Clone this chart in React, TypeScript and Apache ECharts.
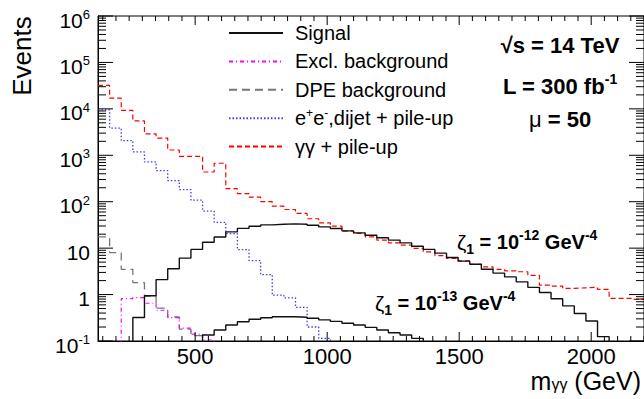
import React, { useEffect, useRef } from "react";
import * as echarts from "echarts";

// ---- binning (GeV) ----
const X_MIN = 132;
const X_MAX = 2200;
const BIN_WIDTH = 44;

// ---- axis ticks / labels ----
const X_TICK_LABELS = [500, 1000, 1500, 2000];
const Y_MIN = 0.1;
const Y_MAX = 1e6;

// ---- histogram contents (events per bin), 47 bins from 132 to 2200 GeV ----
// 0.01 marks bins that lie below the visible range
const SIGNAL_HI = [
  0.01, 0.01, 0.01, 0.32, 0.94, 2.1, 3.6, 6.1, 9.4, 13.4,
  17.4, 22.4, 26.7, 29.7, 31.7, 32.8, 33.3, 32.8, 31.2, 28.7,
  26.5, 23.5, 21.3, 19.0, 16.7, 14.9, 13.0, 11.0, 9.4, 7.8,
  6.3, 5.25, 4.5, 3.5, 2.9, 2.4, 1.88, 1.43, 1.11, 0.81,
  0.57, 0.39, 0.27, 0.124, 0.01, 0.01, 0.01,
];
const SIGNAL_LO = [
  0.01, 0.01, 0.01, 0.01, 0.01, 0.01, 0.01, 0.01, 0.01, 0.135,
  0.172, 0.221, 0.26, 0.293, 0.317, 0.333, 0.333, 0.325, 0.31, 0.285,
  0.265, 0.242, 0.221, 0.197, 0.172, 0.151, 0.135, 0.114, 0.01, 0.01,
  0.01, 0.01, 0.01, 0.01, 0.01, 0.01, 0.01, 0.01, 0.01, 0.01,
  0.01, 0.01, 0.01, 0.01, 0.01, 0.01, 0.01,
];
const EXCL_BKG = [
  0.01, 0.01, 0.82, 0.86, 0.65, 0.46, 0.32, 0.19, 0.14, 0.105,
  0.01, 0.01, 0.01, 0.01, 0.01, 0.01, 0.01, 0.01, 0.01, 0.01,
  0.01, 0.01, 0.01, 0.01, 0.01, 0.01, 0.01, 0.01, 0.01, 0.01,
  0.01, 0.01, 0.01, 0.01, 0.01, 0.01, 0.01, 0.01, 0.01, 0.01,
  0.01, 0.01, 0.01, 0.01, 0.01, 0.01, 0.01,
];
const DPE_BKG = [
  17.5, 8.0, 3.5, 1.8, 0.93, 0.51, 0.33, 0.18, 0.13, 0.01,
  0.01, 0.01, 0.01, 0.01, 0.01, 0.01, 0.01, 0.01, 0.01, 0.01,
  0.01, 0.01, 0.01, 0.01, 0.01, 0.01, 0.01, 0.01, 0.01, 0.01,
  0.01, 0.01, 0.01, 0.01, 0.01, 0.01, 0.01, 0.01, 0.01, 0.01,
  0.01, 0.01, 0.01, 0.01, 0.01, 0.01, 0.01,
];
const EE_DIJET = [
  9500, 3860, 2070, 1180, 718, 469, 286, 183, 108, 63,
  36, 20.5, 9.3, 5.4, 2.7, 0.97, 0.85, 0.53, 0.2, 0.114,
  0.01, 0.01, 0.01, 0.01, 0.01, 0.01, 0.01, 0.01, 0.01, 0.01,
  0.01, 0.01, 0.01, 0.01, 0.01, 0.01, 0.01, 0.01, 0.01, 0.01,
  0.01, 0.01, 0.01, 0.01, 0.01, 0.01, 0.01,
];
const GAMMA_GAMMA = [
  32000, 17000, 9300, 5500, 2900, 2350, 1300, 950, 950, 437,
  673, 192, 150, 125, 100, 80, 68, 56, 43, 35,
  29.7, 23.2, 20.7, 17.5, 14.9, 13.0, 11.6, 9.9, 8.3, 6.9,
  6.0, 5.3, 4.5, 3.96, 3.48, 3.25, 3.1, 2.6, 1.6, 1.52,
  1.36, 1.4, 1.43, 1.29, 0.83, 0.83, 0.79,
];

const NAMES = [
  "Signal",
  "Excl. background",
  "DPE background",
  "e+e-,dijet + pile-up",
  "γγ + pile-up",
];

const FONT = "'Liberation Sans', Arial, Helvetica, sans-serif";

function hist(values: number[]) {
  const pts: number[][] = values.map((v, i) => [X_MIN + i * BIN_WIDTH, v]);
  pts.push([X_MIN + values.length * BIN_WIDTH, values[values.length - 1]]);
  return pts;
}

function yTickData() {
  const out: number[][] = [];
  for (let k = -1; k <= 6; k++) {
    const d = Math.pow(10, k);
    out.push([X_MIN, d, 1]);
    if (k < 6) for (let m = 2; m <= 9; m++) out.push([X_MIN, m * d, 0]);
  }
  return out;
}
function xTickData() {
  const out: number[][] = [];
  for (let v = 150; v <= X_MAX; v += 50) {
    out.push([v, 1, X_TICK_LABELS.indexOf(v) >= 0 ? 1 : 0]);
  }
  return out;
}

function lineSeries(name: string, values: number[], color: string, width: number, type: any, z = 3) {
  return {
    name,
    type: "line",
    step: "end",
    data: hist(values),
    symbol: "none",
    showSymbol: false,
    clip: true,
    z,
    lineStyle: { color, width, type },
    itemStyle: { color },
  };
}

export default function App() {
  const ref = useRef<HTMLDivElement>(null);
  useEffect(() => {
    if (!ref.current) return;
    const chart = echarts.init(ref.current, undefined, { renderer: "svg" });
    const option: any = {
      animation: false,
      backgroundColor: "#fff",
      grid: {
        left: 98,
        right: -1,
        top: 16,
        bottom: 58,
        show: true,
        borderColor: "#000",
        borderWidth: 1,
      },
      xAxis: {
        type: "value",
        min: X_MIN,
        max: X_MAX,
        axisLine: { show: true, lineStyle: { color: "#000", width: 1 } },
        axisTick: { show: false },
        splitLine: { show: false },
        axisLabel: {
          customValues: X_TICK_LABELS,
          formatter: (v: number) => String(v),
          fontSize: 22,
          fontFamily: FONT,
          color: "#000",
          margin: 5,
          lineHeight: 20,
        },
      },
      yAxis: {
        type: "log",
        logBase: 10,
        min: Y_MIN,
        max: Y_MAX,
        axisLine: { show: true, lineStyle: { color: "#000", width: 1 } },
        axisTick: { show: false },
        splitLine: { show: false },
        axisLabel: {
          margin: 8,
          padding: [8, 0, 0, 0],
          color: "#000",
          fontFamily: FONT,
          fontSize: 21,
          formatter: (v: number) => {
            const e = Math.round(Math.log10(v));
            if (e === 0) return "{b|1}";
            if (e === 1) return "{b|10}";
            return "{b|10}{s|" + e + "}";
          },
          rich: {
            b: { fontSize: 21, lineHeight: 24, fontFamily: FONT, color: "#000" },
            s: { fontSize: 13, lineHeight: 12, verticalAlign: "top", fontFamily: FONT, color: "#000" },
          },
        },
      },
      legend: {
        orient: "vertical",
        left: 228,
        top: 22,
        padding: 0,
        itemWidth: 54,
        itemHeight: 14,
        itemGap: 6.4,
        selectedMode: false,
        data: NAMES,
        itemStyle: { opacity: 0 },
        formatter: (n: string) =>
          n === NAMES[3] ? "{t|e}{sup|+}{t|e}{sup|-}{t|,dijet + pile-up}" : "{t|" + n + "}",
        textStyle: {
          fontFamily: FONT,
          fontSize: 20,
          color: "#000",
          lineHeight: 22,
          padding: [0, 0, 0, 7],
          rich: {
            t: { fontFamily: FONT, fontSize: 20, lineHeight: 22, color: "#000" },
            sup: { fontFamily: FONT, fontSize: 12, lineHeight: 10, verticalAlign: "top", color: "#000" },
          },
        },
      },
      series: [
        lineSeries(NAMES[4], GAMMA_GAMMA, "#ff0000", 1.2, [5, 3], 3),
        lineSeries(NAMES[3], EE_DIJET, "#3a3aff", 1.3, [1.5, 2], 3),
        lineSeries(NAMES[2], DPE_BKG, "#777777", 1.3, [8, 5], 3),
        lineSeries(NAMES[1], EXCL_BKG, "#ff00ff", 1.2, [4, 3, 1, 3], 3),
        lineSeries(NAMES[0], SIGNAL_HI, "#111111", 1.4, "solid", 4),
        lineSeries(NAMES[0], SIGNAL_LO, "#111111", 1.4, "solid", 4),
        {
          name: "yticks",
          type: "custom",
          silent: true,
          z: 5,
          encode: { x: 0, y: 1 },
          data: yTickData(),
          renderItem: (params: any, api: any) => {
            const cs = params.coordSys;
            const y = api.coord([api.value(0), api.value(1)])[1];
            const len = api.value(2) ? 15 : 8;
            const st = { stroke: "#000", lineWidth: 1 };
            return {
              type: "group",
              children: [
                { type: "line", shape: { x1: cs.x, y1: y, x2: cs.x + len, y2: y }, style: st },
                { type: "line", shape: { x1: cs.x + cs.width, y1: y, x2: cs.x + cs.width - len, y2: y }, style: st },
              ],
            };
          },
        },
        {
          name: "xticks",
          type: "custom",
          silent: true,
          z: 5,
          encode: { x: 0, y: 1 },
          data: xTickData(),
          renderItem: (params: any, api: any) => {
            const cs = params.coordSys;
            const x = api.coord([api.value(0), api.value(1)])[0];
            const len = api.value(2) ? 9 : 5;
            const st = { stroke: "#000", lineWidth: 1 };
            return {
              type: "group",
              children: [
                { type: "line", shape: { x1: x, y1: cs.y + cs.height, x2: x, y2: cs.y + cs.height - len }, style: st },
                { type: "line", shape: { x1: x, y1: cs.y, x2: x, y2: cs.y + len }, style: st },
              ],
            };
          },
        },
      ],
      graphic: [
        {
          type: "text",
          x: 22,
          y: 56,
          rotation: Math.PI / 2,
          style: {
            text: "Events",
            fontFamily: FONT,
            fontSize: 26,
            fill: "#000",
            align: "center",
            verticalAlign: "middle",
          },
        },
        {
          type: "text",
          x: 641,
          y: 381,
          style: {
            text: "{b|m}{sub|γγ}{b| (GeV)}",
            align: "right",
            verticalAlign: "middle",
            fill: "#000",
            rich: {
              b: { fontFamily: FONT, fontSize: 25, lineHeight: 22, fill: "#000" },
              sub: { fontFamily: FONT, fontSize: 16, lineHeight: 8, verticalAlign: "bottom", fill: "#000" },
            },
          },
        },
        {
          type: "text",
          x: 560,
          y: 45,
          style: {
            text: "√s = 14 TeV",
            fontFamily: FONT,
            fontSize: 22,
            fontWeight: "bold",
            fill: "#000",
            align: "center",
            verticalAlign: "middle",
          },
        },
        {
          type: "text",
          x: 560,
          y: 86,
          style: {
            text: "{b|L = 300 fb}{sup|-1}",
            align: "center",
            verticalAlign: "middle",
            fill: "#000",
            rich: {
              b: { fontFamily: FONT, fontSize: 22, fontWeight: "bold", lineHeight: 28, fill: "#000" },
              sup: { fontFamily: FONT, fontSize: 14, fontWeight: "bold", lineHeight: 12, verticalAlign: "top", fill: "#000" },
            },
          },
        },
        {
          type: "text",
          x: 560,
          y: 119,
          style: {
            text: "{m|μ}{b| = 50}",
            align: "center",
            verticalAlign: "middle",
            fill: "#000",
            rich: {
              m: { fontFamily: FONT, fontSize: 22, lineHeight: 28, fill: "#000" },
              b: { fontFamily: FONT, fontSize: 22, fontWeight: "bold", lineHeight: 28, fill: "#000" },
            },
          },
        },
        ...[
          { x: 457, y: 242, e: "-12" },
          { x: 375, y: 303, e: "-13" },
        ].map((l) => ({
          type: "text",
          x: l.x,
          y: l.y,
          style: {
            text: "{z|ζ}{sub|1}{b| = 10}{sup|" + l.e + "}{b| GeV}{sup|-4}",
            align: "left",
            verticalAlign: "middle",
            fill: "#000",
            rich: {
              z: { fontFamily: FONT, fontSize: 21, lineHeight: 28, fill: "#000" },
              b: { fontFamily: FONT, fontSize: 20, fontWeight: "bold", lineHeight: 28, fill: "#000" },
              sub: { fontFamily: FONT, fontSize: 14, fontWeight: "bold", lineHeight: 12, verticalAlign: "bottom", fill: "#000" },
              sup: { fontFamily: FONT, fontSize: 14, fontWeight: "bold", lineHeight: 12, verticalAlign: "top", fill: "#000" },
            },
          },
        })),
      ],
    };
    chart.setOption(option);
    return () => chart.dispose();
  }, []);
  return (
    <div
      ref={ref}
      style={{ position: "fixed", left: 0, top: 0, width: 644, height: 399 }}
    />
  );
}
